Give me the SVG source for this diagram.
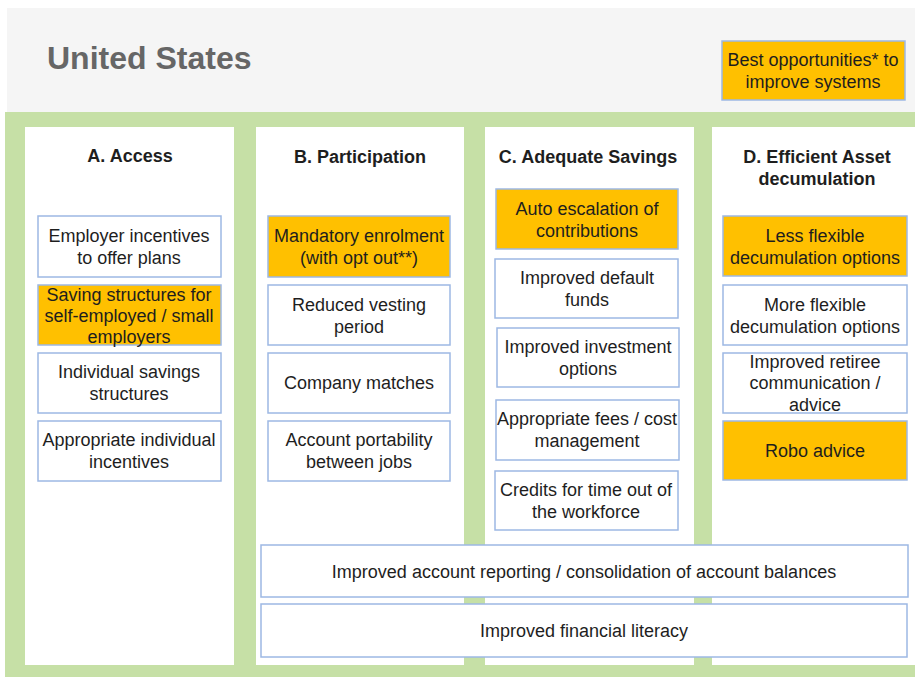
<svg xmlns="http://www.w3.org/2000/svg" width="915" height="677" viewBox="0 0 915 677">
<style>
text{font-family:"Liberation Sans",Arial,sans-serif;fill:#1e1e1e;text-anchor:middle}
.t{font-size:18px}
.h{font-size:18px;font-weight:bold}
.box{fill:#ffffff;stroke:#9db8e4;stroke-width:1.5}
.hi{fill:#ffc000;stroke:#9db8e4;stroke-width:1.5}
.panel{fill:#ffffff}
</style>
<rect x="0" y="0" width="915" height="677" fill="#ffffff"/>
<g id="header">
<rect x="7" y="8" width="908" height="104" fill="#f5f5f5"/>
<text x="47" y="69" style="font-size:32px;font-weight:bold;fill:#666666;text-anchor:start">United States</text>
</g>
<g id="legend">
<rect class="hi" x="722" y="41" width="183" height="59"/>
<text class="t" x="813" y="66">Best opportunities* to</text>
<text class="t" x="813" y="88">improve systems</text>
</g>
<rect x="5" y="112" width="910" height="565" fill="#c6e0a6"/>
<g id="panelA">
<rect class="panel" x="25" y="127" width="209" height="538"/>
<text class="h" x="130" y="162">A. Access</text>
</g>
<g id="panelB">
<rect class="panel" x="256" y="127" width="208" height="538"/>
<text class="h" x="360" y="163">B. Participation</text>
</g>
<g id="panelC">
<rect class="panel" x="485" y="127" width="209" height="538"/>
<text class="h" x="588" y="163">C. Adequate Savings</text>
</g>
<g id="panelD">
<rect class="panel" x="712" y="127" width="203" height="538"/>
<text class="h" x="817" y="163">D. Efficient Asset</text>
<text class="h" x="817" y="185">decumulation</text>
</g>
<g id="a1"><rect class="box" x="38" y="216" width="183" height="61"/><text class="t" x="129" y="242">Employer incentives</text><text class="t" x="129" y="264">to offer plans</text></g>
<g id="a2"><rect class="hi" x="38" y="285" width="183" height="60"/><text class="t" x="129" y="301">Saving structures for</text><text class="t" x="129" y="322">self-employed / small</text><text class="t" x="129" y="343">employers</text></g>
<g id="a3"><rect class="box" x="38" y="353" width="183" height="60"/><text class="t" x="129" y="378">Individual savings</text><text class="t" x="129" y="400">structures</text></g>
<g id="a4"><rect class="box" x="38" y="421" width="183" height="60"/><text class="t" x="129" y="446">Appropriate individual</text><text class="t" x="129" y="468">incentives</text></g>
<g id="b1"><rect class="hi" x="268" y="216" width="182" height="61"/><text class="t" x="359" y="242">Mandatory enrolment</text><text class="t" x="359" y="264">(with opt out**)</text></g>
<g id="b2"><rect class="box" x="268" y="285" width="182" height="60"/><text class="t" x="359" y="311">Reduced vesting</text><text class="t" x="359" y="333">period</text></g>
<g id="b3"><rect class="box" x="268" y="353" width="182" height="60"/><text class="t" x="359" y="389">Company matches</text></g>
<g id="b4"><rect class="box" x="268" y="421" width="182" height="60"/><text class="t" x="359" y="446">Account portability</text><text class="t" x="359" y="468">between jobs</text></g>
<g id="c1"><rect class="hi" x="496" y="189" width="182" height="60"/><text class="t" x="587" y="215">Auto escalation of</text><text class="t" x="587" y="237">contributions</text></g>
<g id="c2"><rect class="box" x="495" y="259" width="183" height="59"/><text class="t" x="587" y="284">Improved default</text><text class="t" x="587" y="306">funds</text></g>
<g id="c3"><rect class="box" x="497" y="328" width="182" height="59"/><text class="t" x="588" y="353">Improved investment</text><text class="t" x="588" y="375">options</text></g>
<g id="c4"><rect class="box" x="496" y="400" width="183" height="60"/><text class="t" x="587" y="425">Appropriate fees / cost</text><text class="t" x="587" y="447">management</text></g>
<g id="c5"><rect class="box" x="495" y="471" width="183" height="59"/><text class="t" x="586" y="496">Credits for time out of</text><text class="t" x="586" y="518">the workforce</text></g>
<g id="d1"><rect class="hi" x="723" y="216" width="184" height="60"/><text class="t" x="815" y="242">Less flexible</text><text class="t" x="815" y="264">decumulation options</text></g>
<g id="d2"><rect class="box" x="723" y="285" width="184" height="60"/><text class="t" x="815" y="311">More flexible</text><text class="t" x="815" y="333">decumulation options</text></g>
<g id="d3"><rect class="box" x="723" y="353" width="184" height="60"/><text class="t" x="815" y="368">Improved retiree</text><text class="t" x="815" y="389">communication /</text><text class="t" x="815" y="411">advice</text></g>
<g id="d4"><rect class="hi" x="723" y="421" width="184" height="59"/><text class="t" x="815" y="457">Robo advice</text></g>
<g id="e1"><rect class="box" x="261" y="545" width="647" height="52"/><text class="t" x="584" y="578">Improved account reporting / consolidation of account balances</text></g>
<g id="e2"><rect class="box" x="261" y="604" width="646" height="53"/><text class="t" x="584" y="637">Improved financial literacy</text></g>
<g id="connectors"></g>
</svg>
